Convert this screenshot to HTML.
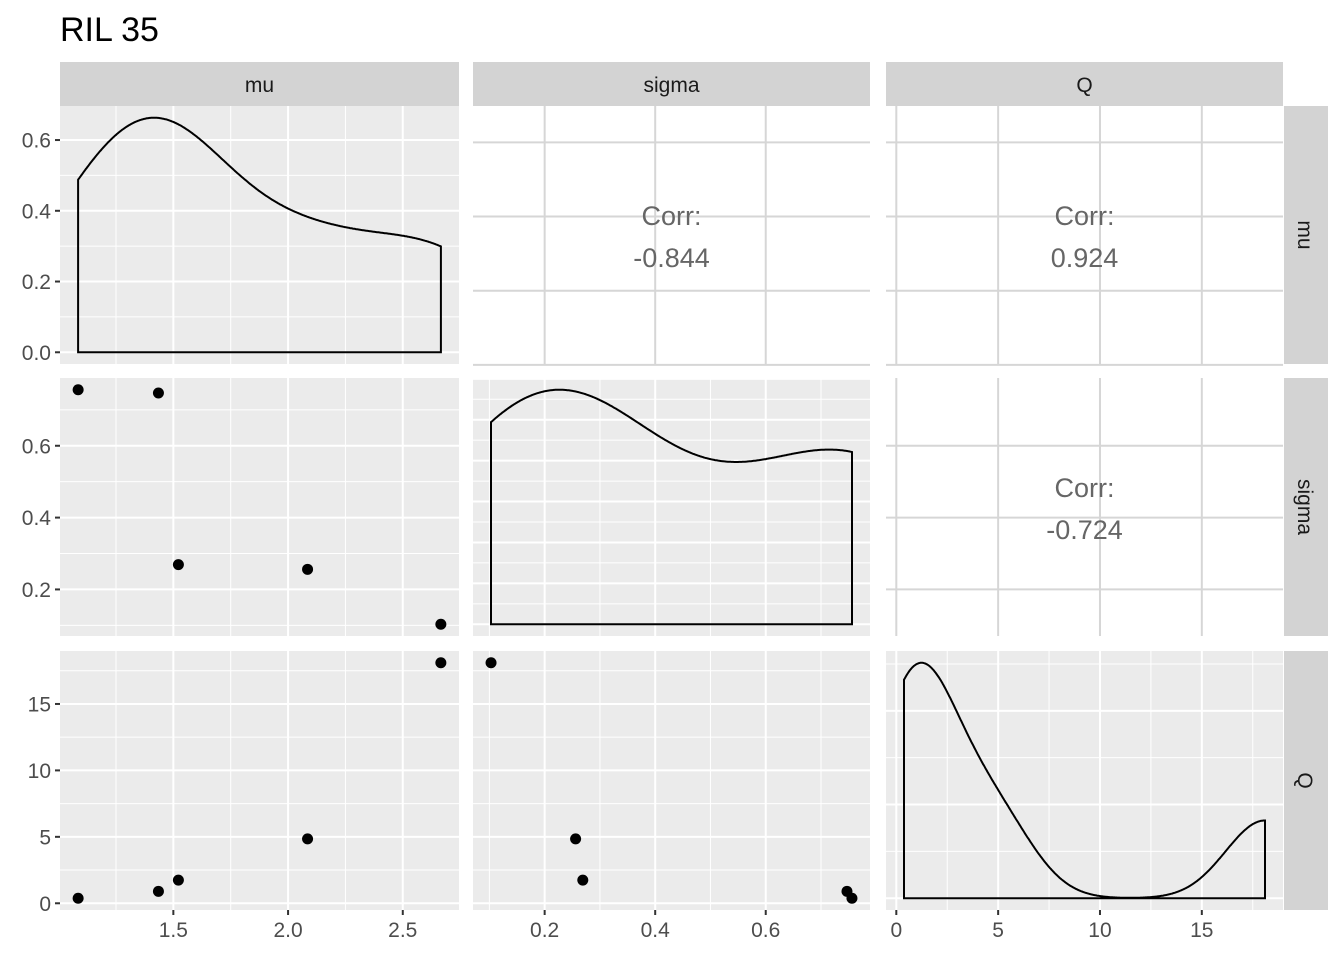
<!DOCTYPE html>
<html><head><meta charset="utf-8"><style>
body{margin:0;background:#fff;}
svg{display:block;font-family:"Liberation Sans",sans-serif;}
</style></head><body>
<svg id="c" width="1344" height="960" xmlns="http://www.w3.org/2000/svg">
<text x="60" y="41" font-size="34" fill="#000">RIL 35</text>
</svg>
<script>
const vars = ["mu","sigma","Q"];
const muVals = [1.085, 1.435, 1.522, 2.085, 2.666];
const sigmaVals = [0.756, 0.747, 0.269, 0.256, 0.103];
const qVals = [0.38, 0.9, 1.74, 4.85, 18.1];
const muTicks = [1.5, 2.0, 2.5];
const sigmaTicks = [0.2, 0.4, 0.6];
const qTicks = [0, 5, 10, 15];
const densTicks = [0, 0.2, 0.4, 0.6];

const data = {mu: muVals, sigma: sigmaVals, Q: qVals};
const ticks = {mu: muTicks, sigma: sigmaTicks, Q: qTicks};
const NS = "http://www.w3.org/2000/svg";
const svg = document.getElementById("c");
const colX = [[60,459],[473,870],[886,1283]];
const rowY = [[106,364],[378,636],[651,910]];

function mk(tag, attrs, parent){const e=document.createElementNS(NS,tag);for(const k in attrs)e.setAttribute(k,attrs[k]);(parent||svg).appendChild(e);return e;}
function range(v){const mn=Math.min(...v),mx=Math.max(...v),d=mx-mn;return [mn-0.05*d,mx+0.05*d];}
function xs(v,c){const r=range(data[vars[c]]);return x=>colX[c][0]+(x-r[0])/(r[1]-r[0])*(colX[c][1]-colX[c][0]);}
function ys(v,r){const rg=range(data[vars[r]]);return y=>rowY[r][1]-(y-rg[0])/(rg[1]-rg[0])*(rowY[r][1]-rowY[r][0]);}
function fmt(v,t){const dec=t.some(x=>Math.abs(x-Math.round(x))>1e-9)?1:0;return v.toFixed(dec);}
function minors(t){const s=t[1]-t[0];const out=[];for(let i=-1;i<t.length;i++){out.push(t[0]+(i+0.5)*s);}return out;}
function sd(a){const m=a.reduce((s,x)=>s+x,0)/a.length;return Math.sqrt(a.reduce((s,x)=>s+(x-m)**2,0)/(a.length-1));}
function quant(a,p){const s=[...a].sort((x,y)=>x-y);const h=(s.length-1)*p;const l=Math.floor(h);return s[l]+(h-l)*((s[Math.min(l+1,s.length-1)])-s[l]);}
function bw(a){const lo=Math.min(sd(a),(quant(a,.75)-quant(a,.25))/1.34);return 0.9*lo*Math.pow(a.length,-0.2);}
function kde(a){const h=bw(a),mn=Math.min(...a),mx=Math.max(...a);const pts=[];for(let i=0;i<512;i++){const x=mn+(mx-mn)*i/511;let s=0;for(const v of a)s+=Math.exp(-0.5*((x-v)/h)**2);pts.push([x,s/(a.length*h*Math.sqrt(2*Math.PI))]);}return pts;}
function corr(a,b){const n=a.length,ma=a.reduce((s,x)=>s+x,0)/n,mb=b.reduce((s,x)=>s+x,0)/n;let sab=0,saa=0,sbb=0;for(let i=0;i<n;i++){sab+=(a[i]-ma)*(b[i]-mb);saa+=(a[i]-ma)**2;sbb+=(b[i]-mb)**2;}return sab/Math.sqrt(saa*sbb);}
function niceTicks(mx){const raw=mx/4;const p=Math.pow(10,Math.floor(Math.log10(raw)));const m=raw/p;const st=(m<1.5?1:m<3?2:m<7?5:10)*p;const t=[];for(let v=0;v<=mx*1.05;v+=st)t.push(+v.toFixed(10));return t;}

for(let r=0;r<3;r++){for(let c=0;c<3;c++){
  const [x0,x1]=colX[c],[y0,y1]=rowY[r];
  const g=mk("g",{});
  
  
  const X=xs(null,c);
  if(r<c){
    const Y=ys(null,r);
    mk("rect",{x:x0,y:y0,width:x1-x0,height:y1-y0,fill:"#fff"},g);
    for(const t of ticks[vars[c]]){const px=X(t);if(px>=x0&&px<=x1)mk("line",{x1:px,x2:px,y1:y0,y2:y1,stroke:"#d6d6d6","stroke-width":2},g);}
    const rt=ticks[vars[r]];const st=rt[1]-rt[0];const rg=range(data[vars[r]]);
    for(let t=Math.floor(rg[0]/st)*st;t<=rg[1]+st;t+=st){const py=Y(t);if(py>=y0-1&&py<=y1+2)mk("line",{x1:x0,x2:x1,y1:py,y2:py,stroke:"#d6d6d6","stroke-width":2},g);}
    const cv=corr(data[vars[c]],data[vars[r]]);
    const cx=(x0+x1)/2,cy=(y0+y1)/2;
    const t1=mk("text",{x:cx,y:cy-10,"text-anchor":"middle","font-size":27,fill:"#666"},g);t1.textContent="Corr:";
    
    
    const t2=mk("text",{x:cx,y:cy+32,"text-anchor":"middle","font-size":27,fill:"#666"},g);t2.textContent=cv.toFixed(3);
    
    
  } else {
    mk("rect",{x:x0,y:y0,width:x1-x0,height:y1-y0,fill:"#ebebeb"},g);
    let Y, yt;
    let dens=null;
    if(r===c){
      dens=kde(data[vars[c]]);const mx=Math.max(...dens.map(d=>d[1]));
      const lo=-0.05*mx,hi=1.05*mx;Y=y=>y1-(y-lo)/(hi-lo)*(y1-y0);
      yt=r===0?densTicks:niceTicks(mx);
    } else {Y=ys(null,r);yt=ticks[vars[r]];}
    for(const t of minors(ticks[vars[c]])){const px=X(t);if(px>=x0&&px<=x1)mk("line",{x1:px,x2:px,y1:y0,y2:y1,stroke:"#fff","stroke-width":1},g);}
    for(const t of minors(yt)){const py=Y(t);if(py>=y0&&py<=y1)mk("line",{x1:x0,x2:x1,y1:py,y2:py,stroke:"#fff","stroke-width":1},g);}
    for(const t of ticks[vars[c]]){const px=X(t);if(px>=x0&&px<=x1)mk("line",{x1:px,x2:px,y1:y0,y2:y1,stroke:"#fff","stroke-width":2},g);}
    for(const t of yt){const py=Y(t);if(py>=y0&&py<=y1)mk("line",{x1:x0,x2:x1,y1:py,y2:py,stroke:"#fff","stroke-width":2},g);}
    if(dens){
      let d="M"+X(dens[0][0]).toFixed(1)+","+Y(0).toFixed(1);
      for(const p of dens)d+="L"+X(p[0]).toFixed(1)+","+Y(p[1]).toFixed(1);
      d+="L"+X(dens[dens.length-1][0]).toFixed(1)+","+Y(0).toFixed(1)+"Z";
      const p=mk("path",{d:d,fill:"none",stroke:"#000","stroke-width":2},g);
      
      
    } else {
      const xa=data[vars[c]],ya=data[vars[r]];
      for(let i=0;i<xa.length;i++){
        const pt=mk("circle",{cx:X(xa[i]),cy:Y(ya[i]),r:5.5,fill:"#000"},g);
        
        
      }
    }
    if(c===0){
      for(const t of yt){const py=Y(t);if(py>=y0&&py<=y1){
        mk("line",{x1:x0-5,x2:x0,y1:py,y2:py,stroke:"#333","stroke-width":2});
        const tx=mk("text",{x:x0-9,y:py+7.5,"text-anchor":"end","font-size":21,fill:"#4d4d4d"});tx.textContent=fmt(t,yt);
        
        
      }}
    }
  }
  if(r===2){
    for(const t of ticks[vars[c]]){const px=X(t);if(px>=x0&&px<=x1){
      mk("line",{x1:px,x2:px,y1:y1,y2:y1+5,stroke:"#333","stroke-width":2});
      const tx=mk("text",{x:px,y:y1+27,"text-anchor":"middle","font-size":21,fill:"#4d4d4d"});tx.textContent=fmt(t,ticks[vars[c]]);
      
      
    }}
  }
}}
// strips
for(let c=0;c<3;c++){
  const g=mk("g",{});
  
  
  mk("rect",{x:colX[c][0],y:62,width:colX[c][1]-colX[c][0],height:44,fill:"#d3d3d3"},g);
  const t=mk("text",{x:(colX[c][0]+colX[c][1])/2,y:92,"text-anchor":"middle","font-size":21,fill:"#1a1a1a"},g);t.textContent=vars[c];
}
for(let r=0;r<3;r++){
  const g=mk("g",{});
  
  
  mk("rect",{x:1284,y:rowY[r][0],width:44,height:rowY[r][1]-rowY[r][0],fill:"#d3d3d3"},g);
  const cy=(rowY[r][0]+rowY[r][1])/2;
  const t=mk("text",{x:1298,y:cy,"text-anchor":"middle","font-size":21,fill:"#1a1a1a",transform:"rotate(90 1298 "+cy+")"},g);t.textContent=vars[r];
}
</script>
</body></html>
